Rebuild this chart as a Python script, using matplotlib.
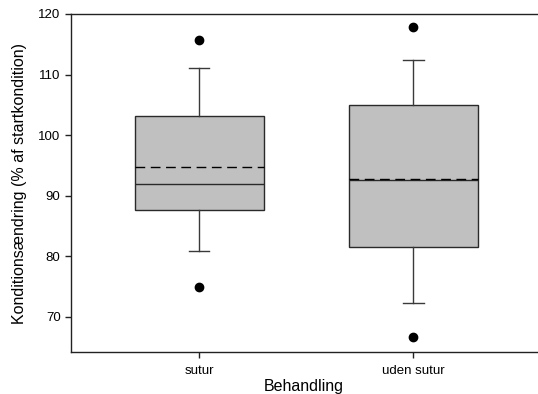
import matplotlib
matplotlib.use("Agg")
import matplotlib.pyplot as plt

plt.rcParams['font.family'] = ['Liberation Sans', 'DejaVu Sans']

categories = ["sutur", "uden sutur"]
q1 = [87.7, 81.5]
q3 = [103.2, 105.05]
medians = [92.0, 92.6]
means = [94.67, 92.78]
whisker_low = [80.95, 72.35]
whisker_high = [111.05, 112.45]
outliers = [[115.7, 75.0], [117.8, 66.6]]

stats = []
for i, name in enumerate(categories):
    stats.append(dict(label=name, q1=q1[i], q3=q3[i], med=medians[i], mean=means[i],
                      whislo=whisker_low[i], whishi=whisker_high[i], fliers=outliers[i]))

fig = plt.figure(figsize=(5.38, 3.94), dpi=100)
ax = fig.add_axes([71 / 538, 1 - 352 / 394, (537 - 71) / 538, (352 - 14) / 394])

positions = [1, 2]
ax.bxp(stats, positions=positions, widths=0.603, patch_artist=True,
       showmeans=True, meanline=True,
       boxprops=dict(facecolor='#c0c0c0', edgecolor='#2a2a2a', linewidth=1.0),
       medianprops=dict(color='#2a2a2a', linewidth=1.0),
       meanprops=dict(color='black', linestyle=(0, (7, 4)), linewidth=1.0),
       whiskerprops=dict(color='#3a3a3a', linewidth=1.0),
       capprops=dict(color='#3a3a3a', linewidth=1.0),
       capwidths=0.094,
       flierprops=dict(marker='o', markerfacecolor='black', markeredgecolor='black', markersize=6))

ax.set_xlim(0.4, 2.577)
ax.set_ylim(64.2, 120)
ax.set_yticks([70, 80, 90, 100, 110, 120])
ax.set_xticks(positions)
ax.set_xticklabels(categories)
ax.spines['right'].set_visible(False)
for s in ['left', 'top', 'bottom']:
    ax.spines[s].set_color('#222222')
    ax.spines[s].set_linewidth(1.0)
ax.tick_params(axis='both', labelsize=9.5, length=4, width=1.0, color='#222222')
ax.tick_params(axis='x', pad=5)
ax.set_xlabel("Behandling", fontsize=11.5, labelpad=2)
ax.set_ylabel("Konditionsændring (% af startkondition)", fontsize=11.5, labelpad=8)

fig.savefig("out.png", dpi=100)
